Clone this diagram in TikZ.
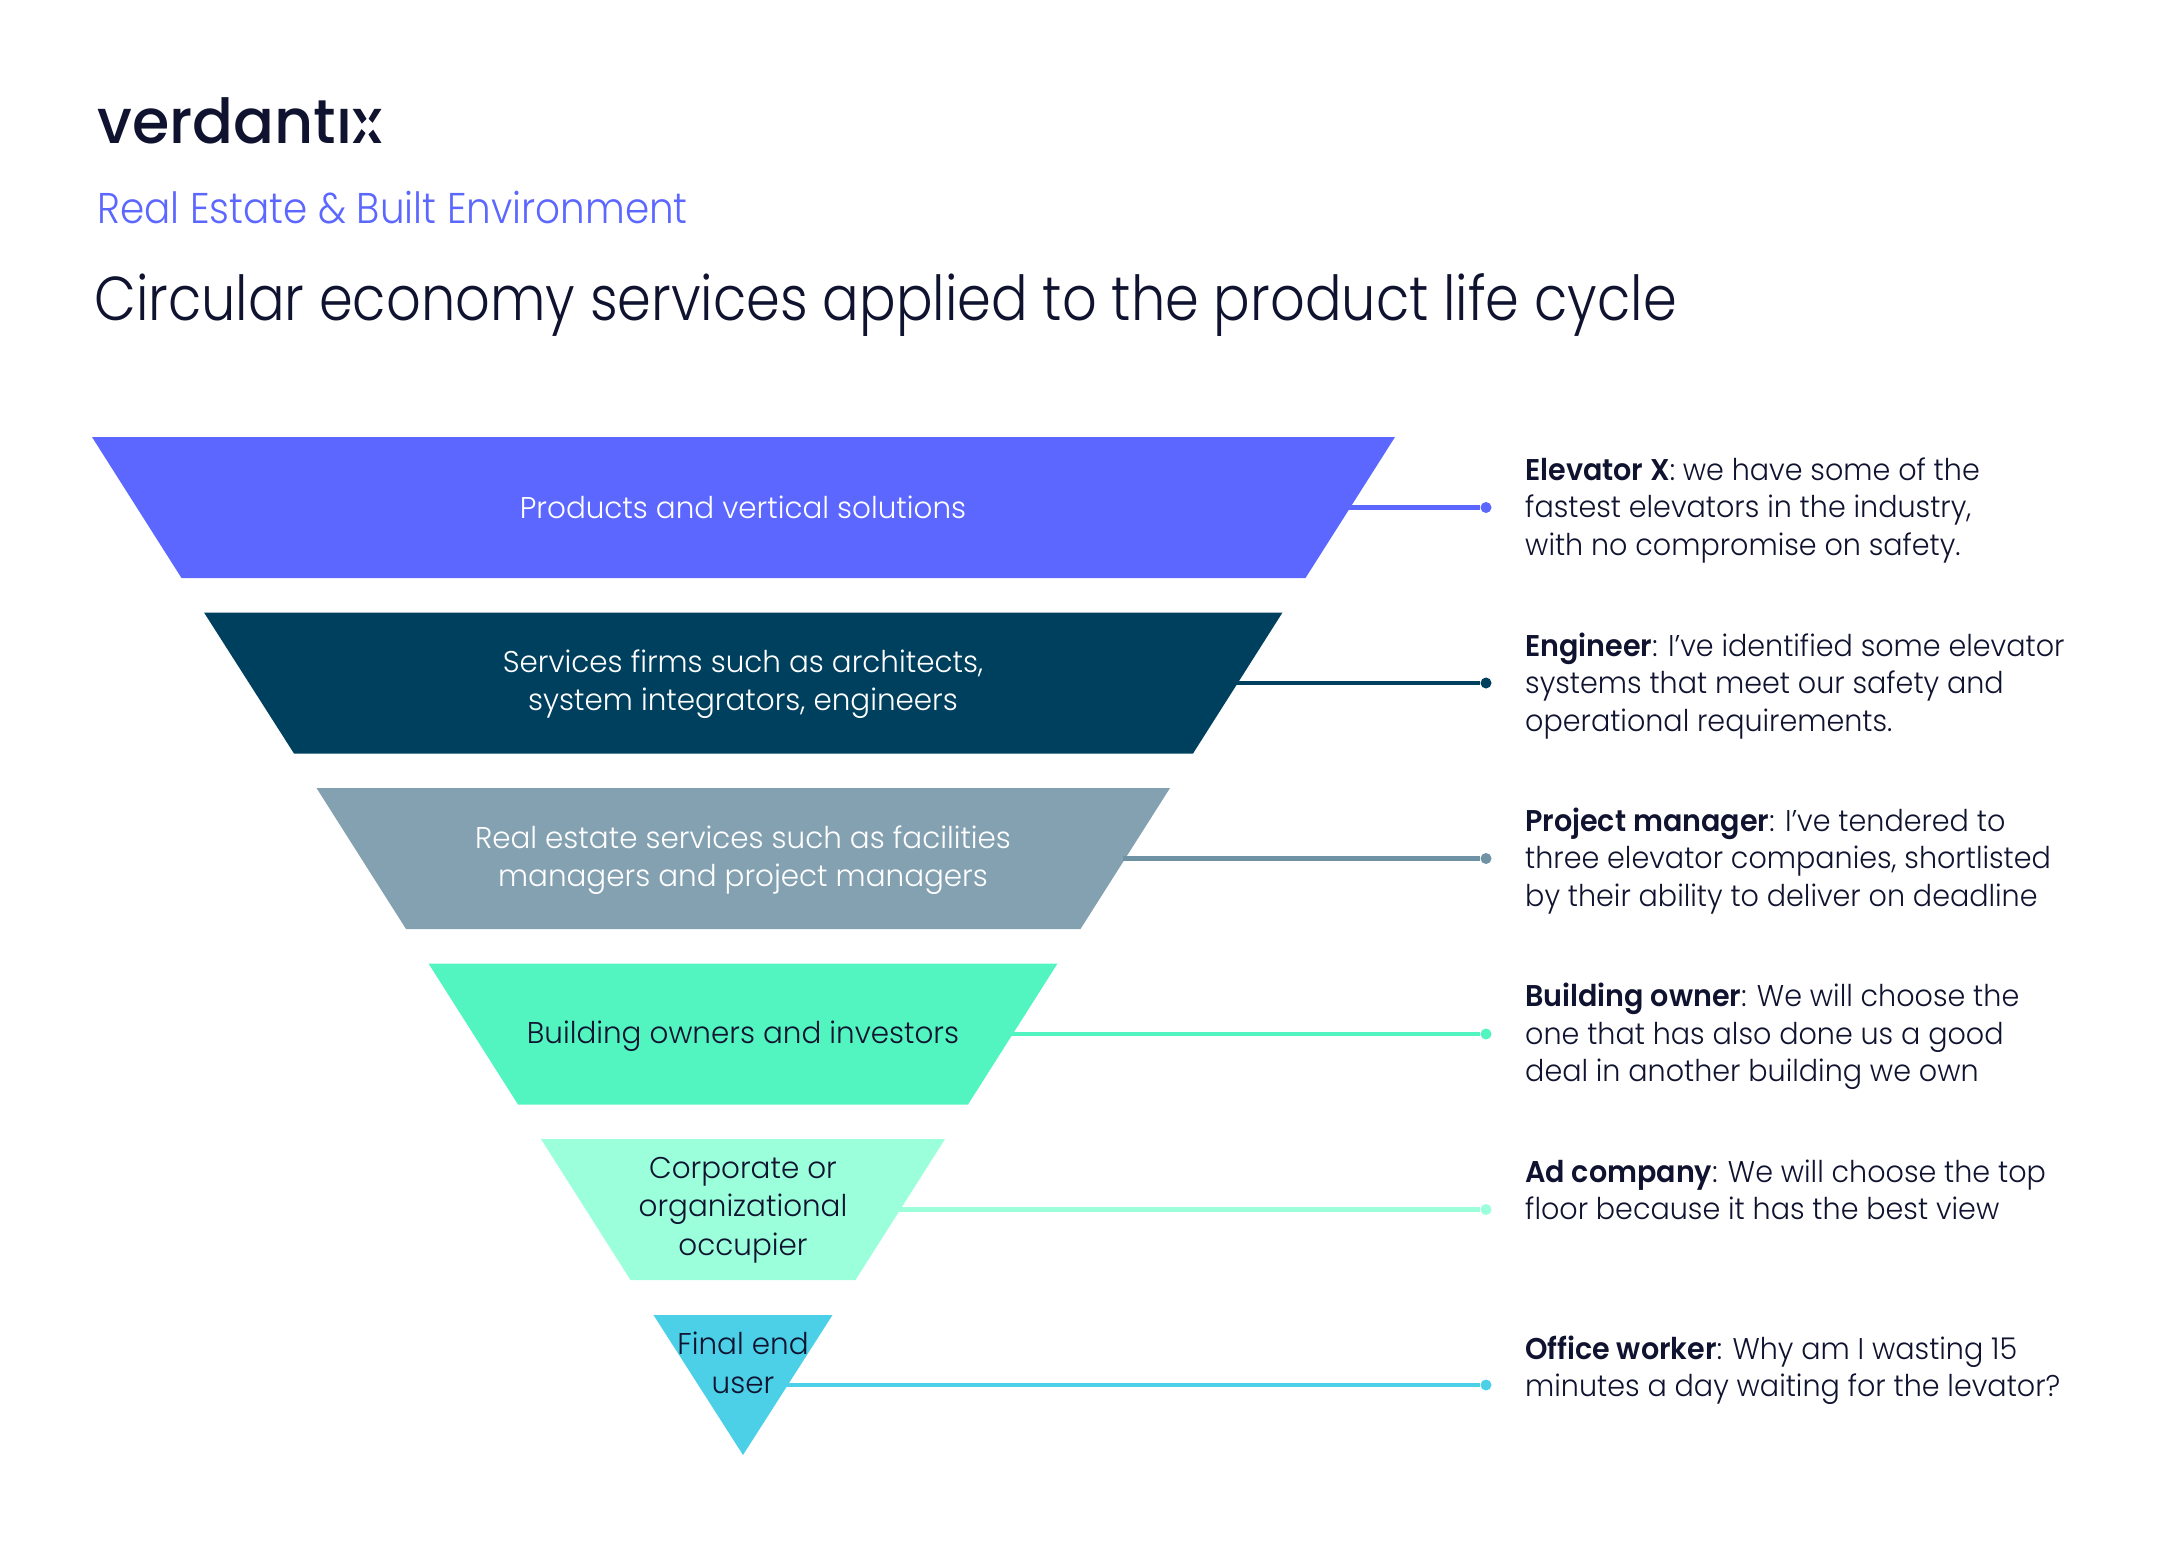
\documentclass[tikz,border=0pt]{standalone}
\usepackage{fontspec}
\setmainfont{Poppins}[UprightFont=* Light,BoldFont=* SemiBold,FakeStretch=0.953]
\newfontfamily\logofont{Poppins}[UprightFont=* Medium,FakeStretch=0.975]
\newfontfamily\funnelfont{Poppins}[UprightFont=* Light,FakeStretch=0.98]
\newfontfamily\subfont{Poppins}[UprightFont=* Light,FakeStretch=0.905]
\newfontfamily\titlefont{Poppins}[UprightFont=* Light,FakeStretch=0.875]
\definecolor{ink}{HTML}{10132F}
\definecolor{cA}{HTML}{5C67FF}
\definecolor{cB}{HTML}{00405F}
\definecolor{cC}{HTML}{84A1B1}
\definecolor{cD}{HTML}{52F5C0}
\definecolor{cE}{HTML}{9BFFDB}
\definecolor{cF}{HTML}{4BD0E8}
\tikzset{
  x=1pt,y=-1pt,
  funneltext/.style={align=center,font=\funnelfont\fontsize{30}{38.5}\selectfont,inner sep=0pt},
  sidetext/.style={align=left,font=\fontsize{30}{37.4}\selectfont,anchor=north west,inner sep=0pt,text=ink},
  link/.style={line width=4.4pt},
  enddot/.style={circle,inner sep=0pt,minimum size=11pt}
}
\begin{document}
\begin{tikzpicture}
\useasboundingbox (0,0) rectangle (2165,1564);
\node[anchor=base west,inner sep=0pt,text=ink,font=\logofont\fontsize{62}{62}\selectfont] (logo) at (97,143) {verdantıx};
\node[fill=white,rotate=45,minimum size=12pt,inner sep=0pt] (logogap) at ([xshift=-15pt,yshift=16.5pt]logo.base east) {};
\node[anchor=west,inner sep=0pt,text=cA,font=\subfont\fontsize{43}{43}\selectfont] (sub) at (97,208) {Real Estate \& Built Environment};
\node[anchor=west,inner sep=0pt,text=ink,font=\titlefont\fontsize{62}{62}\selectfont] (title) at (94,305) {Circular economy services applied to the product life cycle};

% funnel bands
\fill[cA] (92,437) -- (1395,437) -- (1305.5,578) -- (181.5,578) -- cycle;
\fill[cB] (204,612.5) -- (1282.5,612.5) -- (1193,753.5) -- (294,753.5) -- cycle;
\fill[cC] (316.5,788) -- (1170,788) -- (1080.5,929) -- (406,929) -- cycle;
\fill[cD] (428.5,963.5) -- (1057.5,963.5) -- (968,1104.5) -- (518,1104.5) -- cycle;
\fill[cE] (541,1139) -- (945,1139) -- (855.5,1280) -- (630.5,1280) -- cycle;
\fill[cF] (653.5,1315) -- (832.5,1315) -- (743,1455) -- cycle;

\coordinate (e1) at (1348,507.5);
\coordinate (e2) at (1236,683);
\coordinate (e3) at (1123,858.5);
\coordinate (e4) at (1011,1034);
\coordinate (e5) at (899,1209.5);
\coordinate (e6) at (786,1385);

\node[enddot,fill=cA] (d1) at (1486,507.5) {};
\node[enddot,fill=cB] (d2) at (1486,683) {};
\node[enddot,fill=cC!85!cB] (d3) at (1486,858.5) {};
\node[enddot,fill=cD] (d4) at (1486,1034) {};
\node[enddot,fill=cE] (d5) at (1486,1209.5) {};
\node[enddot,fill=cF] (d6) at (1486,1385) {};

\draw[link,cA] (e1) -- (d1);
\draw[link,cB] (e2) -- (d2);
\draw[link,cC!85!cB] (e3) -- (d3);
\draw[link,cD] (e4) -- (d4);
\draw[link,cE] (e5) -- (d5);
\draw[link,cF] (e6) -- (d6);

\node[funneltext,text=white] (t1) at (743,507) {Products and vertical solutions};
\node[funneltext,text=white] (t2) at (743,684) {Services firms such as architects,\\system integrators, engineers};
\node[funneltext,text=white] (t3) at (743,860) {Real estate services such as facilities\\managers and project managers};
\node[funneltext,text=ink] (t4) at (743,1036) {Building owners and investors};
\node[funneltext,text=ink] (t5) at (743,1210) {Corporate or\\organizational\\occupier};
\node[funneltext,text=ink] (t6) at (743,1363) {Final end\\user};

\node[sidetext] (s1) at (1525,457.5) {\textbf{Elevator X}: we have some of the\\fastest elevators in the industry,\\with no compromise on safety.};
\node[sidetext] (s2) at (1525,632.5) {\textbf{Engineer}: I’ve identified some elevator\\systems that meet our safety and\\operational requirements.};
\node[sidetext] (s3) at (1525,807.5) {\textbf{Project manager}: I’ve tendered to\\three elevator companies, shortlisted\\by their ability to deliver on deadline};
\node[sidetext] (s4) at (1525,983) {\textbf{Building owner}: We will choose the\\one that has also done us a good\\deal in another building we own};
\node[sidetext] (s5) at (1525,1159.5) {\textbf{Ad company}: We will choose the top\\floor because it has the best view};
\node[sidetext] (s6) at (1525,1335.5) {\textbf{Office worker}: Why am I wasting 15\\minutes a day waiting for the levator?};
\end{tikzpicture}
\end{document}
